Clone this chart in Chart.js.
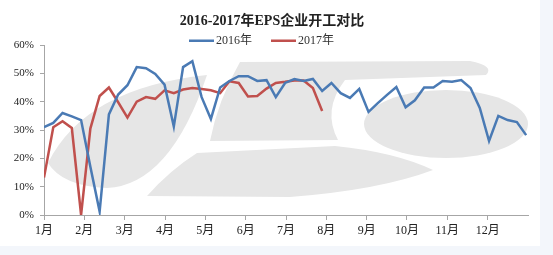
<!DOCTYPE html>
<html>
<head>
<meta charset="utf-8">
<script src="https://cdn.jsdelivr.net/npm/chart.js@4/dist/chart.umd.min.js"></script>
<style>
  html, body { margin: 0; padding: 0; background: #f3f6fb; }
  #box { width: 540px; height: 246px; background: #fff; position: relative; }
</style>
</head>
<body>
<div id="box"><canvas id="myChart"></canvas></div>
<script>
// chart data
const title = "2016-2017年EPS企业开工对比";
const months = ["1月", "2月", "3月", "4月", "5月", "6月", "7月", "8月", "9月", "10月", "11月", "12月"];
const seriesNames = ["2016年", "2017年"];
// weekly operating rate, %
const rate2016 = [31, 32.5, 36, 34.8, 33.5, 17, 1.2, 35.5, 42.5, 45.8, 52.2, 51.8, 49.8, 46, 31.2,
  52.2, 54.3, 41.6, 33.9, 45, 47.3, 49, 49, 47.3, 47.6, 41.6, 46.6, 48, 47.3, 48, 43.8, 46.6,
  43, 41.3, 44.5, 36.4, 39.5, 42.4, 45.2, 38, 40.5, 45, 45, 47.3, 47, 47.6, 44.8, 37.8, 26.1,
  35, 33.5, 32.8, 28.2];
const rate2017 = [13.2, 31, 33.1, 30.7, 0, 30.5, 42, 45, 39.8, 34.4, 40, 41.6, 41, 44, 43, 44.3,
  44.8, 44.5, 44, 43, 47.2, 46.6, 41.8, 42, 44.6, 46.6, 47, 47.5, 47.5, 44.8, 36.7];
const yTicks = [0, 10, 20, 30, 40, 50, 60];
const weeksPerYear = 52.2;

const colors = ["#4a7ab4", "#c0504d"];
const font = "'Liberation Serif', 'Noto Sans CJK SC', serif";

// title + legend drawn on top
const header = {
	id: "header",
	afterDraw(chart) {
		const c = chart.ctx;
		c.save();
		c.fillStyle = "#222";
		c.textAlign = "center";
		c.textBaseline = "middle";
		c.font = "bold 14px " + font;
		c.fillText(title, 272, 21);
		c.font = "12px " + font;
		c.textAlign = "left";
		const items = [[189, seriesNames[0], colors[0]], [271, seriesNames[1], colors[1]]];
		items.forEach(([x, t, col]) => {
			c.fillStyle = col;
			c.fillRect(x, 39.5, 25, 2.5);
			c.fillStyle = "#333";
			c.fillText(t, x + 27, 41);
		});
		c.restore();
	},
};

// light grey logo in the background
const watermark = {
	id: "watermark",
	beforeDatasetsDraw(chart) {
		const c = chart.ctx;
		c.save();
		c.fillStyle = "#e6e6e6";
		// left leaf
		c.beginPath();
		c.moveTo(48, 163);
		c.quadraticCurveTo(85, 88, 207, 75);
		c.quadraticCurveTo(170, 185, 107, 188);
		c.quadraticCurveTo(62, 186, 48, 163);
		c.fill();
		// upper block
		c.beginPath();
		c.moveTo(240, 62);
		c.lineTo(470, 61);
		c.quadraticCurveTo(495, 66, 486, 75);
		c.lineTo(345, 80);
		c.quadraticCurveTo(322, 110, 338, 140);
		c.lineTo(210, 141);
		c.quadraticCurveTo(218, 100, 240, 62);
		c.fill();
		// lower band
		c.beginPath();
		c.moveTo(197, 153);
		c.lineTo(335, 146);
		c.quadraticCurveTo(395, 152, 433, 170);
		c.quadraticCurveTo(380, 190, 290, 197);
		c.lineTo(147, 196);
		c.quadraticCurveTo(170, 170, 197, 153);
		c.fill();
		// right ellipse
		c.beginPath();
		c.ellipse(446, 124, 82, 34, 0, 0, Math.PI * 2);
		c.fill();
		c.restore();
	},
};

const ctx = document.getElementById("myChart");

new Chart(ctx, {
	type: "line",
	data: {
		datasets: [
			{
				label: seriesNames[0],
				data: rate2016.map((v, i) => ({ x: i, y: v })),
				borderColor: colors[0],
				backgroundColor: colors[0],
				borderWidth: 2.5,
			},
			{
				label: seriesNames[1],
				data: rate2017.map((v, i) => ({ x: i, y: v })),
				borderColor: colors[1],
				backgroundColor: colors[1],
				borderWidth: 2.5,
			},
		],
	},
	options: {
		responsive: true,
		maintainAspectRatio: false,
		animation: false,
		tension: 0,
		pointRadius: 0,
		layout: { padding: { top: 45, right: 12, left: 0, bottom: 0 } },
		plugins: {
			legend: { display: false },
			title: { display: false },
			tooltip: { enabled: false },
		},
		scales: {
			x: {
				type: "linear",
				min: 0,
				max: weeksPerYear,
				afterBuildTicks: (s) => {
					s.ticks = months.map((m, i) => ({ value: (i * weeksPerYear) / 12 }));
				},
				afterFit: (s) => { s.height = 31; },
				grid: { drawOnChartArea: false, tickLength: 5, color: "#a6a6a6" },
				border: { color: "#a6a6a6" },
				ticks: {
					autoSkip: false,
					maxRotation: 0,
					padding: 4,
					color: "#222",
					font: { family: font, size: 12 },
					callback: (v, i) => months[i],
				},
			},
			y: {
				min: 0,
				max: 60,
				afterBuildTicks: (s) => {
					s.ticks = yTicks.map((v) => ({ value: v }));
				},
				afterFit: (s) => { s.width = 44; },
				grid: { drawOnChartArea: false, tickLength: 4, color: "#a6a6a6" },
				border: { color: "#a6a6a6" },
				ticks: {
					padding: 6,
					color: "#222",
					font: { family: font, size: 11 },
					callback: (v) => v + "%",
				},
			},
		},
	},
	plugins: [watermark, header],
});
</script>
</body>
</html>
